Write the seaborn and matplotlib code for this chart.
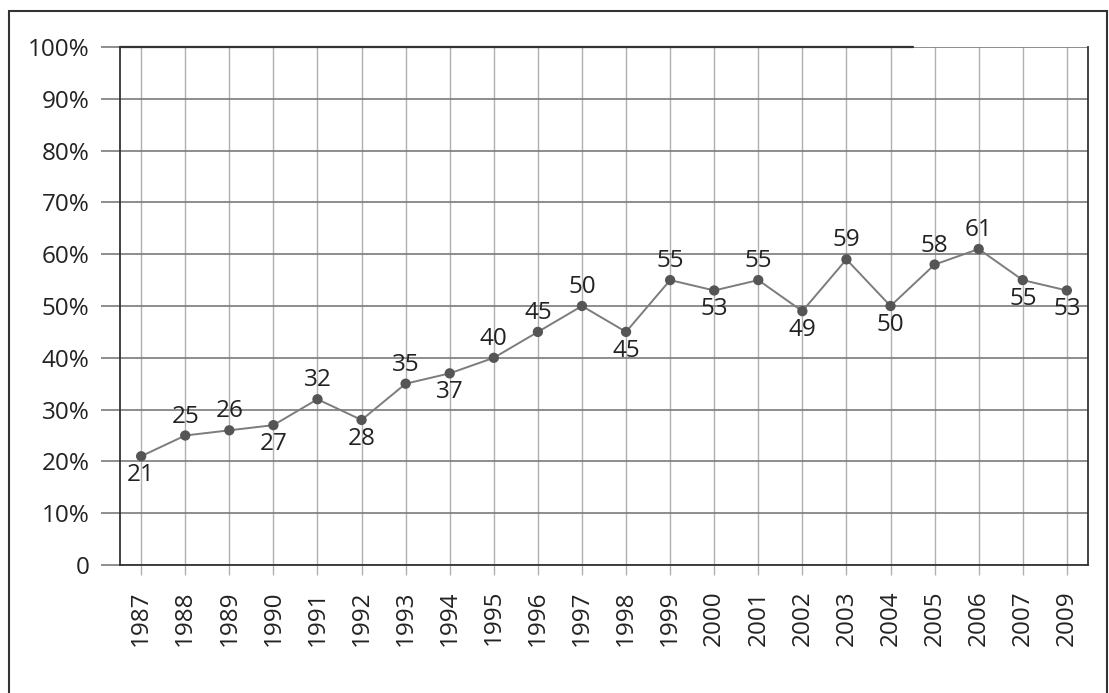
import matplotlib
matplotlib.use("Agg")
import matplotlib.pyplot as plt
import seaborn as sns
import numpy as np
from matplotlib.patches import Rectangle

years = ["1987", "1988", "1989", "1990", "1991", "1992", "1993", "1994", "1995", "1996", "1997",
         "1998", "1999", "2000", "2001", "2002", "2003", "2004", "2005", "2006", "2007", "2009"]
values = [21, 25, 26, 27, 32, 28, 35, 37, 40, 45, 50, 45, 55, 53, 55, 49, 59, 50, 58, 61, 55, 53]
label_pos = ["below", "above", "above", "below", "above", "below", "above", "below", "above", "above", "above",
             "below", "above", "below", "above", "below", "above", "below", "above", "above", "below", "below"]
y_ticks = [0, 10, 20, 30, 40, 50, 60, 70, 80, 90, 100]
y_tick_labels = ["0", "10%", "20%", "30%", "40%", "50%", "60%", "70%", "80%", "90%", "100%"]

sns.set_theme(style="white")
plt.rcParams['font.family'] = ['Open Sans', 'DejaVu Sans']

FS = 17.5
fig = plt.figure(figsize=(11.09, 6.93), dpi=100)
ax = fig.add_axes([120/1109, 1 - 565/693, (1088-120)/1109, (565-47)/693])

sns.pointplot(x=years, y=values, order=years, ax=ax, color="#7c7c7c",
              markers="o", linestyles="-", linewidth=1.4, markersize=0, errorbar=None)
sns.scatterplot(x=np.arange(len(years)), y=values, ax=ax, color="#555555", s=55,
                edgecolor="none", zorder=5)

for i, (v, p) in enumerate(zip(values, label_pos)):
    if p == "above":
        ax.annotate(str(v), (i, v), xytext=(0, 5), textcoords="offset points",
                    ha="center", va="bottom", fontsize=FS, color="#222222")
    else:
        ax.annotate(str(v), (i, v), xytext=(0, -5), textcoords="offset points",
                    ha="center", va="top", fontsize=FS, color="#222222")

ax.set_ylim(0, 100)
ax.set_xlim(-0.48, len(years) - 0.52)
ax.set_yticks(y_ticks)
ax.set_yticklabels(y_tick_labels, fontsize=FS, color="#222222")
ax.set_xticks(np.arange(len(years)))
ax.set_xticklabels(years, rotation=90, fontsize=FS, color="#222222")
ax.set_xlabel("")
ax.set_ylabel("")

ax.yaxis.grid(True, color="#7a7a7a", linewidth=1.2)
ax.xaxis.grid(True, color="#b0b0b0", linewidth=1.0)
ax.set_axisbelow(True)
ax.tick_params(axis="y", length=14, width=1.2, color="#7a7a7a", pad=8, left=True)
ax.tick_params(axis="x", length=7, width=1.0, color="#b0b0b0", pad=11, bottom=True)
for s in ax.spines.values():
    s.set_visible(True)
    s.set_color("#333333")
    s.set_linewidth(1.3)
# top border: dark over most of its length, then the plain grey gridline
ax.spines["top"].set_visible(False)
ax.axhline(100, xmin=0, xmax=(913 - 120) / 968, color="#333333", linewidth=1.6,
           clip_on=False, zorder=3)

fig.patches.append(Rectangle((9/1109, -0.02), (1107-9)/1109, 1 - 11/693 + 0.02,
                             transform=fig.transFigure, fill=False,
                             edgecolor="#333333", linewidth=1.5))

fig.savefig("out.png", dpi=100, facecolor="white")
